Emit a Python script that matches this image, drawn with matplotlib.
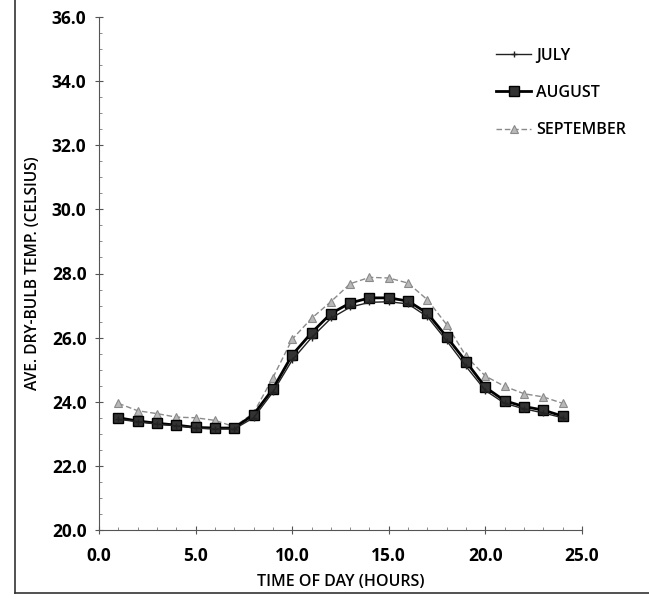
import matplotlib
matplotlib.use("Agg")
import matplotlib.pyplot as plt
from matplotlib.lines import Line2D
from matplotlib.ticker import MultipleLocator, FormatStrFormatter

plt.rcParams['font.family'] = ['Open Sans', 'DejaVu Sans']

hours = list(range(1, 25))
july = [23.45, 23.38, 23.30, 23.25, 23.18, 23.15, 23.15, 23.50, 24.30, 25.30, 26.00, 26.60,
        26.95, 27.10, 27.12, 27.05, 26.65, 25.90, 25.10, 24.35, 23.95, 23.78, 23.65, 23.50]
august = [23.50, 23.40, 23.33, 23.27, 23.20, 23.18, 23.18, 23.60, 24.40, 25.46, 26.15, 26.75,
          27.08, 27.24, 27.24, 27.14, 26.76, 26.02, 25.25, 24.45, 24.03, 23.85, 23.74, 23.55]
september = [23.95, 23.72, 23.63, 23.52, 23.50, 23.42, 23.22, 23.65, 24.75, 25.95, 26.60, 27.12,
             27.68, 27.88, 27.86, 27.70, 27.18, 26.40, 25.42, 24.80, 24.48, 24.25, 24.15, 23.95]

fig = plt.figure(figsize=(6.49, 5.99), dpi=100)
ax = fig.add_axes([99 / 649, 1 - 530 / 599, (582 - 99) / 649, (530 - 17) / 599])

ax.plot(hours, september, color='#8a8a8a', lw=1.0, ls=(0, (4, 2)), marker='^', ms=6,
        mfc='#b8b8b8', mec='#8a8a8a', mew=0.8, label='SEPTEMBER', zorder=2)
ax.plot(hours, august, color='black', lw=2.0, marker='s', ms=7.5,
        mfc='#333333', mec='black', mew=1.0, label='AUGUST', zorder=3)
ax.plot(hours, july, color='#222222', lw=1.0, marker='+', ms=5, mew=1.0,
        label='JULY', zorder=4)

ax.set_xlim(0, 25)
ax.set_ylim(20, 36)
ax.xaxis.set_major_locator(MultipleLocator(5))
ax.xaxis.set_minor_locator(MultipleLocator(1))
ax.yaxis.set_major_locator(MultipleLocator(2))
ax.yaxis.set_minor_locator(MultipleLocator(0.5))
ax.xaxis.set_major_formatter(FormatStrFormatter('%.1f'))
ax.yaxis.set_major_formatter(FormatStrFormatter('%.1f'))

for s in ('top', 'right'):
    ax.spines[s].set_visible(False)
for s in ('left', 'bottom'):
    ax.spines[s].set_color('#555555')
    ax.spines[s].set_linewidth(0.8)

ax.tick_params(axis='both', which='major', direction='inout', length=6, width=0.8,
               color='#555555', labelsize=12.5)
ax.tick_params(axis='y', which='major', pad=6)
ax.tick_params(axis='x', which='major', pad=9)
ax.tick_params(axis='both', which='minor', direction='in', length=2.5, width=0.6,
               color='#777777')
for lab in ax.get_xticklabels() + ax.get_yticklabels():
    lab.set_fontweight('bold')

ax.set_xlabel('TIME OF DAY (HOURS)', fontsize=11.5, fontweight='semibold', labelpad=7)
ax.set_ylabel('AVE. DRY-BULB TEMP. (CELSIUS)', fontsize=11.2, fontweight='semibold', labelpad=8)

handles, labels = ax.get_legend_handles_labels()
order = [2, 1, 0]
leg = ax.legend([handles[i] for i in order], [labels[i] for i in order],
                loc='upper left', bbox_to_anchor=(0.822, 0.94), frameon=False,
                handlelength=2.2, handletextpad=0.3, labelspacing=1.33,
                borderaxespad=0.0, borderpad=0.0,
                prop={'size': 11.5, 'weight': 'semibold'})

# outer frame lines along the left and bottom edges
fig.add_artist(Line2D([15 / 649, 15 / 649], [1.0, 1 - 593 / 599], transform=fig.transFigure,
                      color='#333333', lw=1.2))
fig.add_artist(Line2D([15 / 649, 1.0], [1 - 593 / 599, 1 - 593 / 599], transform=fig.transFigure,
                      color='#333333', lw=1.2))

fig.savefig('out.png', dpi=100, facecolor='white')
